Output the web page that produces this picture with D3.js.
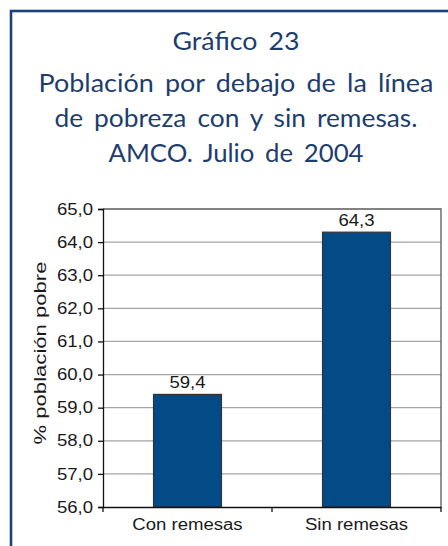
<!DOCTYPE html>
<html>
<head>
<meta charset="utf-8">
<script src="https://cdn.jsdelivr.net/npm/d3@7"></script>
<style>
  html, body { margin: 0; padding: 0; background: #fff; }
  svg { display: block; }
</style>
</head>
<body>
<svg id="chart" width="448" height="546"></svg>
<script>
const titleLines = ["Gráfico 23", "Población por debajo de la línea", "de pobreza con y sin remesas.", "AMCO. Julio de 2004"];
const categories = ["Con remesas", "Sin remesas"];
const values = [59.4, 64.3];
const yTicks = [56, 57, 58, 59, 60, 61, 62, 63, 64, 65];
const yLabel = "% población pobre";

(function () {
const svg = d3.select("#chart");
const locale = d3.formatLocale({decimal: ",", thousands: ".", grouping: [3], currency: ["", ""]});
const fmt = locale.format(".1f");

const navy = "#1d3d6f";
const axisFont = "'Liberation Sans', Arial, sans-serif";
const sx = 1.16;

// outer frame
svg.append("rect")
  .attr("x", 11).attr("y", 11).attr("width", 480).attr("height", 580)
  .attr("fill", "none").attr("stroke", "#1c4279").attr("stroke-width", 2.6);

// title
const titleY = [50, 92, 127, 162];
const titleW = [127, 395, 363, 255];
svg.append("g").selectAll("text").data(titleLines).join("text")
  .attr("x", 236)
  .attr("y", (d, i) => titleY[i])
  .attr("text-anchor", "middle")
  .attr("font-family", "Lato, 'Open Sans', sans-serif")
  .attr("font-size", 25)
  .attr("word-spacing", 4)
  .attr("fill", navy)
  .attr("textLength", (d, i) => titleW[i])
  .attr("lengthAdjust", "spacingAndGlyphs")
  .text(d => d);

// scales
const pLeft = 103, pRight = 441, pTop = 209, pBottom = 507;
const x = d3.scaleBand().domain(categories).range([pLeft, pRight]).padding(0);
const y = d3.scaleLinear().domain([d3.min(yTicks), d3.max(yTicks)]).range([pBottom, pTop]);

// gridlines
svg.append("g").selectAll("line").data(yTicks.slice(1, -1)).join("line")
  .attr("x1", pLeft).attr("x2", pRight)
  .attr("y1", d => y(d)).attr("y2", d => y(d))
  .attr("stroke", "#a3a3a3").attr("stroke-width", 1.3);

// top and right frame
svg.append("path")
  .attr("d", `M${pLeft},${y(d3.max(yTicks))}H${pRight}V${pBottom}`)
  .attr("fill", "none").attr("stroke", "#5a5a5a").attr("stroke-width", 1.3);

// bars
const bw = x.bandwidth();
const barW = bw * 0.402;
svg.append("g").selectAll("rect").data(values).join("rect")
  .attr("x", (d, i) => x(categories[i]) + (bw - barW) / 2)
  .attr("y", d => y(d))
  .attr("width", barW)
  .attr("height", d => y(d3.min(yTicks)) - y(d))
  .attr("fill", "#034b87")
  .attr("stroke", "#333").attr("stroke-width", 1.2);

// value labels
svg.append("g").selectAll("text").data(values).join("text")
  .attr("transform", (d, i) => `translate(${x(categories[i]) + bw / 2},${y(d) - 6}) scale(${sx},1)`)
  .attr("text-anchor", "middle")
  .attr("font-family", axisFont)
  .attr("font-size", 16)
  .attr("fill", "#1a1a1a")
  .text(d => fmt(d));

// y axis
const yAxis = svg.append("g")
  .attr("transform", `translate(${pLeft},0)`)
  .call(d3.axisLeft(y).tickValues(yTicks).tickSize(5).tickFormat(fmt));
yAxis.select(".domain").attr("stroke", "#111").attr("stroke-width", 1.3);
yAxis.selectAll(".tick line").attr("stroke", "#111").attr("stroke-width", 1.3);
yAxis.selectAll(".tick text")
  .attr("x", -10 / sx)
  .attr("transform", `scale(${sx},1)`)
  .attr("font-family", axisFont)
  .attr("font-size", 16)
  .attr("fill", "#1a1a1a");

// x axis
const xAxis = svg.append("g")
  .attr("transform", `translate(0,${pBottom})`)
  .call(d3.axisBottom(x).tickSize(0).tickPadding(0));
xAxis.select(".domain").attr("stroke", "#111").attr("stroke-width", 1.3);
xAxis.selectAll(".tick text")
  .attr("y", 23)
  .attr("dy", 0)
  .attr("transform", `scale(${sx},1)`)
  .attr("font-family", axisFont)
  .attr("font-size", 16)
  .attr("fill", "#1a1a1a");
// boundary ticks
const bounds = categories.map(c => x(c)).concat([x.range()[1]]);
xAxis.append("g").selectAll("line").data(bounds).join("line")
  .attr("x1", d => d).attr("x2", d => d)
  .attr("y1", 0).attr("y2", 5)
  .attr("stroke", "#111").attr("stroke-width", 1.3);

// y axis title
svg.append("text")
  .attr("transform", `translate(46,353) rotate(-90)`)
  .attr("text-anchor", "middle")
  .attr("font-family", axisFont)
  .attr("font-size", 17)
  .attr("fill", "#1a1a1a")
  .attr("textLength", 183)
  .attr("lengthAdjust", "spacingAndGlyphs")
  .text(yLabel);
})();
</script>
</body>
</html>
